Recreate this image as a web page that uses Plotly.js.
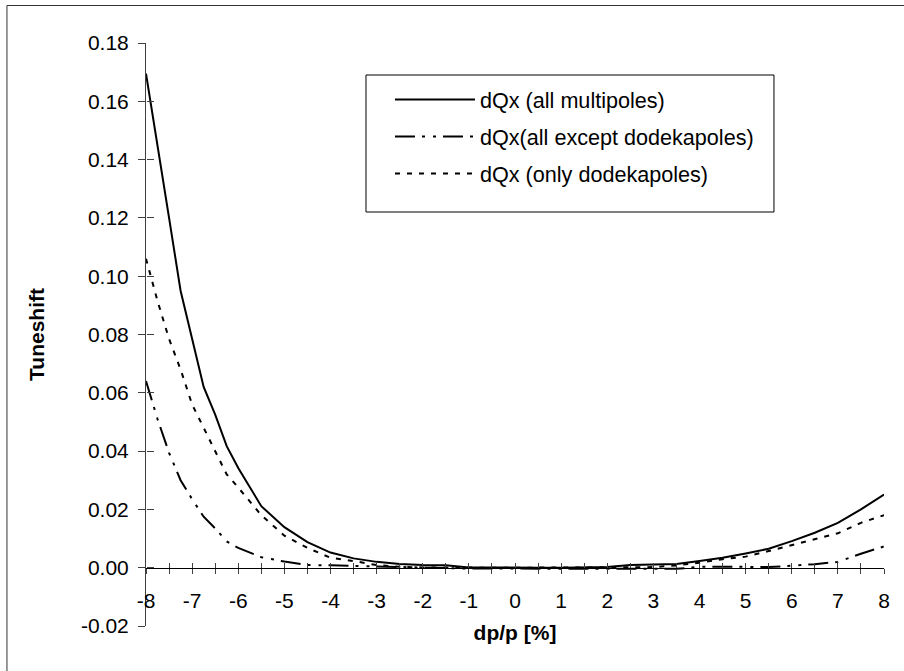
<!DOCTYPE html>
<html>
<head>
<meta charset="utf-8">
<script src="https://cdn.plot.ly/plotly-3.0.1.min.js"></script>
<style>html,body{margin:0;padding:0;background:#fff;}#chart{width:904px;height:671px;}</style>
</head>
<body>
<div id="chart"></div>
<script>
// dp/p [%]
const dpp = [-8, -7.75, -7.5, -7.25, -7, -6.75, -6.5, -6.25, -6, -5.5, -5, -4.5, -4, -3.5, -3, -2.5, -2, -1.5, -1, -0.5, 0, 0.5, 1, 1.5, 2, 2.5, 3, 3.5, 4, 4.5, 5, 5.5, 6, 6.5, 7, 7.5, 8];
// dQx (all multipoles)
const dqxAll = [0.1695, 0.1455, 0.120, 0.095, 0.078, 0.062, 0.0525, 0.0417, 0.0342, 0.0211, 0.0139, 0.0088, 0.0052, 0.0032, 0.0020, 0.0013, 0.0009, 0.0008, 0.0001, 0.0, 0.0, 0.0, 0.0, 0.0, 0.0002, 0.0009, 0.0010, 0.0013, 0.0023, 0.0034, 0.0049, 0.0065, 0.0091, 0.0120, 0.0154, 0.0200, 0.0251];
// dQx (all except dodekapoles)
const dqxNoDodeka = [0.064, 0.051, 0.0394, 0.030, 0.0235, 0.0175, 0.0135, 0.009, 0.0068, 0.0036, 0.0021, 0.0009, 0.0008, 0.0006, 0.0005, 0.0003, 0.0001, 0.0, -0.0003, -0.0003, -0.0003, -0.0004, -0.0004, -0.0004, -0.0004, -0.0004, -0.0004, -0.0004, 0.0003, 0.0004, 0.0003, 0.0002, 0.0006, 0.0012, 0.0020, 0.0048, 0.0073];
// dQx (only dodekapoles)
const dqxDodeka = [0.106, 0.0915, 0.0785, 0.068, 0.056, 0.048, 0.0395, 0.032, 0.0275, 0.018, 0.011, 0.0068, 0.0034, 0.0023, 0.0009, 0.0003, 0.0001, 0.0, 0.0, 0.0, 0.0, 0.0, 0.0, 0.0, 0.0, 0.0, 0.0002, 0.0008, 0.0017, 0.0029, 0.0038, 0.0057, 0.0077, 0.0098, 0.0118, 0.0154, 0.018];

const seriesNames = ['dQx (all multipoles)', 'dQx(all except dodekapoles)', 'dQx (only dodekapoles)'];

const xTickVals = [-8, -7.5, -7, -6.5, -6, -5.5, -5, -4.5, -4, -3.5, -3, -2.5, -2, -1.5, -1, -0.5, 0, 0.5, 1, 1.5, 2, 2.5, 3, 3.5, 4, 4.5, 5, 5.5, 6, 6.5, 7, 7.5, 8];
const xTickText = ['-8', '', '-7', '', '-6', '', '-5', '', '-4', '', '-3', '', '-2', '', '-1', '', '0', '', '1', '', '2', '', '3', '', '4', '', '5', '', '6', '', '7', '', '8'];
const yTickVals = [-0.02, 0, 0.02, 0.04, 0.06, 0.08, 0.10, 0.12, 0.14, 0.16, 0.18];
const yTickText = ['-0.02', '0.00', '0.02', '0.04', '0.06', '0.08', '0.10', '0.12', '0.14', '0.16', '0.18'];

const FONT = 'Liberation Sans, Arial, sans-serif';
const FS = 21;
const axisColor = '#404040';

const traces = [
  {x: dpp, y: dqxAll, name: seriesNames[0], type: 'scatter', mode: 'lines', legendgroup: 'a',
   line: {color: '#000', width: 2, dash: 'solid'}},
  {x: dpp, y: dqxNoDodeka, name: seriesNames[1], type: 'scatter', mode: 'lines', legendgroup: 'b',
   line: {color: '#000', width: 2, dash: '20px,7px,3px,8px,3px,7px'}},
  {x: dpp, y: dqxDodeka, name: seriesNames[2], type: 'scatter', mode: 'lines', legendgroup: 'c',
   line: {color: '#000', width: 2, dash: '5px,7px'}},
  {x: [null], y: [null], xaxis: 'x2', yaxis: 'y2', showlegend: false, hoverinfo: 'skip', type: 'scatter', mode: 'lines'}
];

const layout = {
  width: 904, height: 671,
  margin: {l: 146, r: 20, t: 43, b: 45},
  paper_bgcolor: '#fff', plot_bgcolor: '#fff',
  font: {family: FONT, size: FS, color: '#000'},
  showlegend: true,
  legend: {
    x: 0.3306, y: 0.9385, xanchor: 'left', yanchor: 'top',
    bgcolor: 'rgba(0,0,0,0)', borderwidth: 0,
    font: {family: FONT, size: 21.6, color: '#000'},
    traceorder: 'grouped', tracegroupgap: 6, itemwidth: 80
  },
  xaxis: {
    range: [-8, 8], anchor: 'free', position: 0.1,
    tickmode: 'array', tickvals: xTickVals, ticktext: xTickText,
    ticks: 'outside', ticklen: 5, tickcolor: axisColor, tickwidth: 1,
    ticklabelstandoff: 9,
    showline: true, linecolor: '#000', linewidth: 1,
    showgrid: false, zeroline: false,
    tickfont: {family: FONT, size: FS, color: '#000'},
    title: {text: '<b>dp/p [%]</b>', font: {family: FONT, size: FS, color: '#000'}, standoff: 14}
  },
  xaxis2: {
    range: [-8, 8], overlaying: 'x', anchor: 'free', position: 0.1,
    tickmode: 'array', tickvals: xTickVals,
    ticks: 'inside', ticklen: 5, tickcolor: axisColor, tickwidth: 1,
    showticklabels: false, showline: false, showgrid: false, zeroline: false
  },
  yaxis: {
    range: [-0.02, 0.18], anchor: 'x',
    tickmode: 'array', tickvals: yTickVals, ticktext: yTickText,
    ticks: 'outside', ticklen: 7, tickcolor: axisColor, tickwidth: 1,
    ticklabelstandoff: 5,
    showline: true, linecolor: axisColor, linewidth: 1,
    showgrid: false, zeroline: false,
    tickfont: {family: FONT, size: FS, color: '#000'},
    title: {text: '<b>Tuneshift</b>', font: {family: FONT, size: FS, color: '#000'}, standoff: 30}
  },
  yaxis2: {
    range: [-0.02, 0.18], overlaying: 'y', anchor: 'free', position: 0, side: 'left',
    tickmode: 'array', tickvals: yTickVals,
    ticks: 'inside', ticklen: 7, tickcolor: axisColor, tickwidth: 1,
    showticklabels: false, showline: false, showgrid: false, zeroline: false
  },
  shapes: [
    {type: 'line', xref: 'paper', yref: 'paper', x0: -0.1884, x1: -0.1884, y0: -0.2, y1: 1.0643,
     line: {color: '#333', width: 1}},
    {type: 'line', xref: 'paper', yref: 'paper', x0: -0.1884, x1: 1.1, y0: 1.0643, y1: 1.0643,
     line: {color: '#333', width: 1}},
    {type: 'rect', xref: 'paper', yref: 'paper', x0: 0.2981, x1: 0.8509, y0: 0.7101, y1: 0.9451,
     line: {color: '#000', width: 1}, fillcolor: 'rgba(0,0,0,0)'}
  ]
};

Plotly.newPlot('chart', traces, layout, {staticPlot: true, displayModeBar: false});
</script>
</body>
</html>
